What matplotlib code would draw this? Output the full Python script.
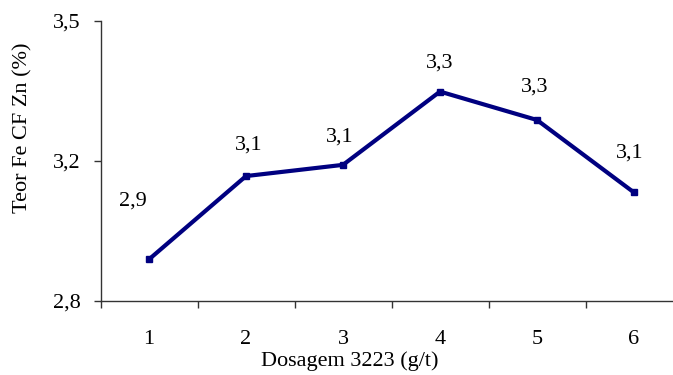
import matplotlib
matplotlib.use("Agg")
import matplotlib.pyplot as plt
from matplotlib.ticker import FixedLocator, FuncFormatter

plt.rcParams['font.family'] = ['Liberation Serif', 'DejaVu Serif']

doses = [1, 2, 3, 4, 5, 6]
teor = [2.904, 3.112, 3.140, 3.323, 3.252, 3.071]
value_labels = ["2,9", "3,1", "3,1", "3,3", "3,3", "3,1"]
y_ticks = [2.8, 3.15, 3.5]

FS = 16

fig = plt.figure(figsize=(6.73, 3.75), dpi=100)
W, H = 673, 375
ax = fig.add_axes([100.5 / W, (H - 301) / H, 582 / W, 280.3 / H])

ax.plot(doses, teor, color='#000080', lw=3.0, marker='s', ms=4.5,
        solid_joinstyle='miter', zorder=3)

# value labels above each point (pixel offsets)
offsets = [(-16, 58), (3, 31), (-3, 28), (0, 29), (-2, 33), (-4, 39)]
for x, y, t, (dx, dy) in zip(doses, teor, value_labels, offsets):
    ax.annotate(t, (x, y), xytext=(dx * 0.72, dy * 0.72), textcoords='offset points',
                ha='center', va='center', fontsize=FS, color='black')


def comma_fmt(v, pos):
    return f"{v + 1e-9:.1f}".replace('.', ',')


ax.set_xlim(0.5, 6.5)
ax.set_ylim(2.8, 3.5)
ax.yaxis.set_major_locator(FixedLocator(y_ticks))
ax.yaxis.set_major_formatter(FuncFormatter(comma_fmt))

ax.set_xticks(doses)
ax.set_xticklabels([str(d) for d in doses])
ax.xaxis.set_minor_locator(FixedLocator([d - 0.5 for d in doses] + [6.5]))
ax.tick_params(axis='x', which='major', length=0, pad=21, labelsize=FS)
ax.tick_params(axis='x', which='minor', length=5, width=1, direction='out', color='#333333')
ax.tick_params(axis='y', length=5, width=1, direction='out', pad=9, labelsize=FS,
               color='#333333')

for s in ['top', 'right']:
    ax.spines[s].set_visible(False)
for s in ['left', 'bottom']:
    ax.spines[s].set_linewidth(1.0)
    ax.spines[s].set_color('#333333')

fig.text(350 / W, 1 - 361 / H, "Dosagem 3223 (g/t)", ha='center', va='center', fontsize=FS)
fig.text(23 / W, 1 - 128 / H, "Teor Fe CF Zn (%)", ha='center', va='center',
         rotation=90, fontsize=FS)

fig.savefig("out.png", dpi=100)
